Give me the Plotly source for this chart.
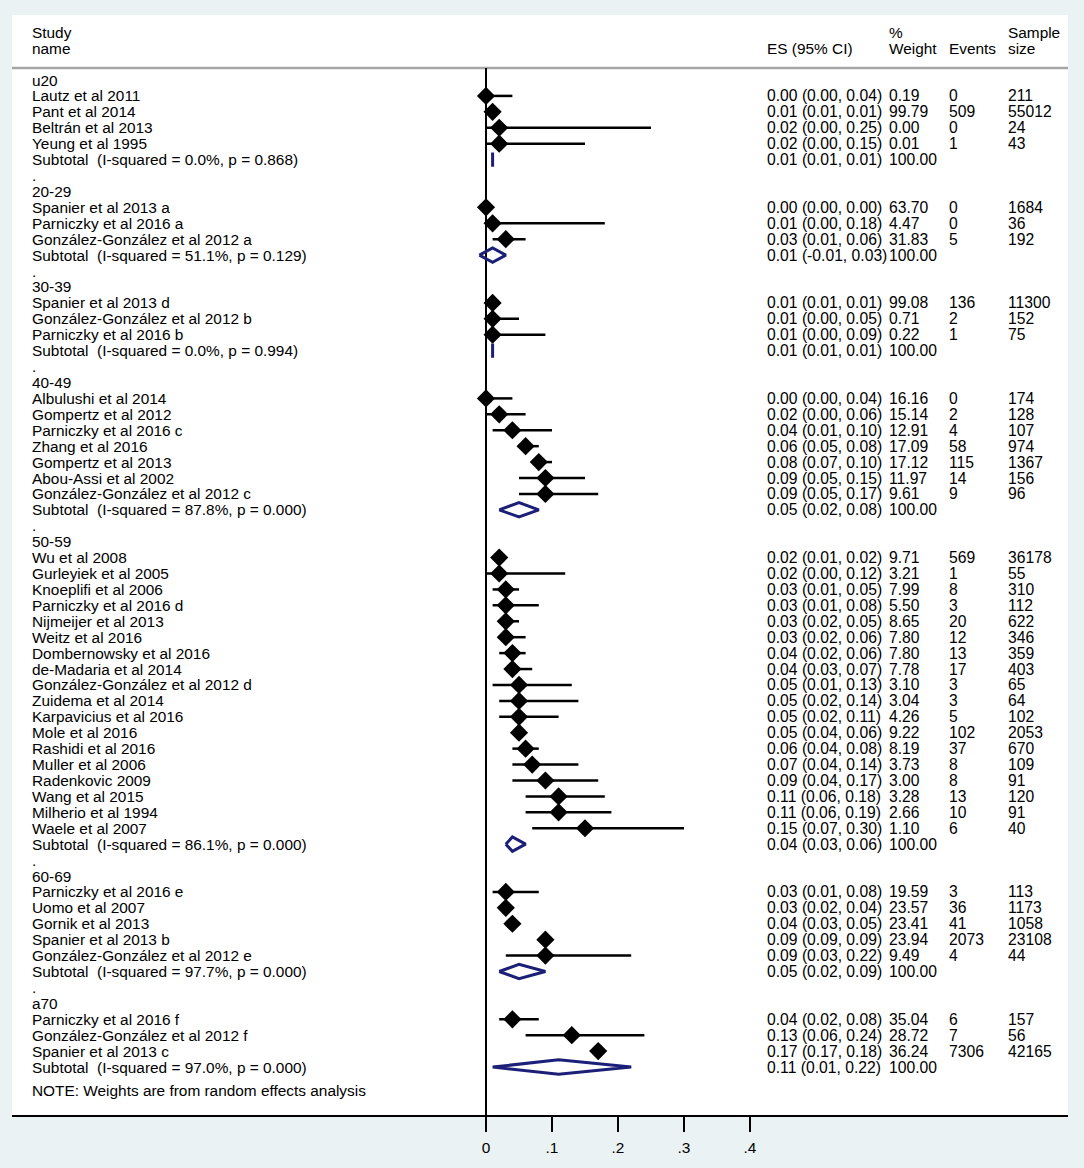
import plotly.graph_objects as go

# ---------------- data ----------------
groups = ["u20", "20-29", "30-39", "40-49", "50-59", "60-69", "a70"]

study_names = [
    "Lautz et al 2011", "Pant et al 2014", "Beltrán et al 2013", "Yeung et al 1995",
    "Spanier et al 2013 a", "Parniczky et al 2016 a", "González-González et al 2012 a",
    "Spanier et al 2013 d", "González-González et al 2012 b", "Parniczky et al 2016 b",
    "Albulushi et al 2014", "Gompertz et al 2012", "Parniczky et al 2016 c", "Zhang et al 2016",
    "Gompertz et al 2013", "Abou-Assi et al 2002", "González-González et al 2012 c",
    "Wu et al 2008", "Gurleyiek et al 2005", "Knoeplifi et al 2006", "Parniczky et al 2016 d",
    "Nijmeijer et al 2013", "Weitz et al 2016", "Dombernowsky et al 2016", "de-Madaria et al 2014",
    "González-González et al 2012 d", "Zuidema et al 2014", "Karpavicius et al 2016",
    "Mole et al 2016", "Rashidi et al 2016", "Muller et al 2006", "Radenkovic 2009",
    "Wang et al 2015", "Milherio et al 1994", "Waele et al 2007",
    "Parniczky et al 2016 e", "Uomo et al 2007", "Gornik et al 2013", "Spanier et al 2013 b",
    "González-González et al 2012 e",
    "Parniczky et al 2016 f", "González-González et al 2012 f", "Spanier et al 2013 c",
]
study_group = [0] * 4 + [1] * 3 + [2] * 3 + [3] * 7 + [4] * 18 + [5] * 5 + [6] * 3

study_es = [0.00, 0.01, 0.02, 0.02,
            0.00, 0.01, 0.03,
            0.01, 0.01, 0.01,
            0.00, 0.02, 0.04, 0.06, 0.08, 0.09, 0.09,
            0.02, 0.02, 0.03, 0.03, 0.03, 0.03, 0.04, 0.04, 0.05, 0.05, 0.05, 0.05,
            0.06, 0.07, 0.09, 0.11, 0.11, 0.15,
            0.03, 0.03, 0.04, 0.09, 0.09,
            0.04, 0.13, 0.17]
study_lo = [0.00, 0.01, 0.00, 0.00,
            0.00, 0.00, 0.01,
            0.01, 0.00, 0.00,
            0.00, 0.00, 0.01, 0.05, 0.07, 0.05, 0.05,
            0.01, 0.00, 0.01, 0.01, 0.02, 0.02, 0.02, 0.03, 0.01, 0.02, 0.02, 0.04,
            0.04, 0.04, 0.04, 0.06, 0.06, 0.07,
            0.01, 0.02, 0.03, 0.09, 0.03,
            0.02, 0.06, 0.17]
study_hi = [0.04, 0.01, 0.25, 0.15,
            0.00, 0.18, 0.06,
            0.01, 0.05, 0.09,
            0.04, 0.06, 0.10, 0.08, 0.10, 0.15, 0.17,
            0.02, 0.12, 0.05, 0.08, 0.05, 0.06, 0.06, 0.07, 0.13, 0.14, 0.11, 0.06,
            0.08, 0.14, 0.17, 0.18, 0.19, 0.30,
            0.08, 0.04, 0.05, 0.09, 0.22,
            0.08, 0.24, 0.18]
study_weight = [0.19, 99.79, 0.00, 0.01,
                63.70, 4.47, 31.83,
                99.08, 0.71, 0.22,
                16.16, 15.14, 12.91, 17.09, 17.12, 11.97, 9.61,
                9.71, 3.21, 7.99, 5.50, 8.65, 7.80, 7.80, 7.78, 3.10, 3.04, 4.26, 9.22,
                8.19, 3.73, 3.00, 3.28, 2.66, 1.10,
                19.59, 23.57, 23.41, 23.94, 9.49,
                35.04, 28.72, 36.24]
study_events = [0, 509, 0, 1,
                0, 0, 5,
                136, 2, 1,
                0, 2, 4, 58, 115, 14, 9,
                569, 1, 8, 3, 20, 12, 13, 17, 3, 3, 5, 102, 37, 8, 8, 13, 10, 6,
                3, 36, 41, 2073, 4,
                6, 7, 7306]
study_n = [211, 55012, 24, 43,
           1684, 36, 192,
           11300, 152, 75,
           174, 128, 107, 974, 1367, 156, 96,
           36178, 55, 310, 112, 622, 346, 359, 403, 65, 64, 102, 2053, 670, 109, 91, 120, 91, 40,
           113, 1173, 1058, 23108, 44,
           157, 56, 42165]

sub_i2 = [0.0, 51.1, 0.0, 87.8, 86.1, 97.7, 97.0]
sub_p = [0.868, 0.129, 0.994, 0.000, 0.000, 0.000, 0.000]
sub_es = [0.01, 0.01, 0.01, 0.05, 0.04, 0.05, 0.11]
sub_lo = [0.01, -0.01, 0.01, 0.02, 0.03, 0.02, 0.01]
sub_hi = [0.01, 0.03, 0.01, 0.08, 0.06, 0.09, 0.22]
sub_weight = [100.00] * 7

tick_vals = [0, 0.1, 0.2, 0.3, 0.4]
tick_text = ["0", ".1", ".2", ".3", ".4"]

note_text = "NOTE: Weights are from random effects analysis"

# ---------------- layout geometry (pixels) ----------------
W, H = 1084, 1168
L_PX, R_PX, TOP_PX, BOT_PX = 12, 1068, 15, 1115
X0_PX, UNIT_PX = 486, 660
ROW0_PX, ROW_PX = 80, 15.92

x_range = [(L_PX - X0_PX) / UNIT_PX, (R_PX - X0_PX) / UNIT_PX]
y_range = [(BOT_PX - ROW0_PX) / ROW_PX, (TOP_PX - ROW0_PX) / ROW_PX]


def px_to_paper_x(px):
    return (px - L_PX) / (R_PX - L_PX)


def px_to_paper_y(py):
    return (BOT_PX - py) / (BOT_PX - TOP_PX)


COL_NAME = px_to_paper_x(30)
COL_ES = px_to_paper_x(765)
COL_W = px_to_paper_x(887)
COL_EV = px_to_paper_x(947)
COL_N = px_to_paper_x(1006)

FONT = dict(family="Liberation Sans, Arial, sans-serif", size=15.4, color="#000000")
NUMFONT = dict(family="Liberation Sans, Arial, sans-serif", size=15.7, color="#000000")
NAVY = "#1b1f78"

# ---------------- rows ----------------
study_row = [None] * len(study_names)
sub_row = []
label_rows = []
r = 0
for g, gname in enumerate(groups):
    label_rows.append((r, gname))
    r += 1
    for i in range(len(study_names)):
        if study_group[i] == g:
            study_row[i] = r
            r += 1
    sub_row.append(r)
    r += 1
    if g < len(groups) - 1:
        label_rows.append((r, "."))
        r += 1
note_row = r + 0.5

# ---------------- traces ----------------
ci_x, ci_y = [], []
for i in range(len(study_names)):
    ci_x += [study_lo[i], study_hi[i], None]
    ci_y += [study_row[i], study_row[i], None]

dia_x, dia_y = [], []
h = 0.45
for g in range(len(groups)):
    rr = sub_row[g]
    dia_x += [sub_lo[g], sub_es[g], sub_hi[g], sub_es[g], sub_lo[g], None]
    dia_y += [rr, rr - h, rr, rr + h, rr, None]

fig = go.Figure()
fig.add_trace(go.Scatter(x=ci_x, y=ci_y, mode="lines",
                         line=dict(color="black", width=2.5), hoverinfo="skip"))
fig.add_trace(go.Scatter(x=study_es, y=study_row, mode="markers",
                         marker=dict(symbol="diamond", size=14, color="black",
                                     line=dict(width=0)),
                         hovertext=study_names))
fig.add_trace(go.Scatter(x=dia_x, y=dia_y, mode="lines",
                         line=dict(color=NAVY, width=3), hoverinfo="skip"))

# ---------------- text ----------------
ann = []


def add_text(xp, y, text, font=FONT):
    ann.append(dict(x=xp, y=y, xref="paper", yref="y", text=text, showarrow=False,
                    xanchor="left", yanchor="middle", font=font))


# headers
add_text(COL_NAME, -3, "Study")
add_text(COL_NAME, -2, "name")
add_text(COL_ES, -2, "ES (95% CI)")
add_text(COL_W, -3, "%")
add_text(COL_W, -2, "Weight")
add_text(COL_EV, -2, "Events")
add_text(COL_N, -3, "Sample")
add_text(COL_N, -2, "size")

for rr, t in label_rows:
    add_text(COL_NAME, rr, t)

for i in range(len(study_names)):
    rr = study_row[i]
    add_text(COL_NAME, rr, study_names[i])
    add_text(COL_ES, rr, f"{study_es[i]:.2f} ({study_lo[i]:.2f}, {study_hi[i]:.2f})", NUMFONT)
    add_text(COL_W, rr, f"{study_weight[i]:.2f}", NUMFONT)
    add_text(COL_EV, rr, str(study_events[i]), NUMFONT)
    add_text(COL_N, rr, str(study_n[i]), NUMFONT)

for g in range(len(groups)):
    rr = sub_row[g]
    add_text(COL_NAME, rr, f"Subtotal\u00a0 (I-squared = {sub_i2[g]:.1f}%, p = {sub_p[g]:.3f})")
    add_text(COL_ES, rr, f"{sub_es[g]:.2f} ({sub_lo[g]:.2f}, {sub_hi[g]:.2f})", NUMFONT)
    add_text(COL_W, rr, f"{sub_weight[g]:.2f}", NUMFONT)

add_text(COL_NAME, note_row, note_text)

# ---------------- shapes ----------------
header_y = px_to_paper_y(68)
shapes = [
    dict(type="line", xref="paper", yref="paper", x0=0, x1=1, y0=header_y, y1=header_y,
         line=dict(color="#a6a6a6", width=2.5), layer="below"),
    dict(type="line", xref="x", yref="paper", x0=0, x1=0, y0=0, y1=header_y,
         line=dict(color="black", width=2), layer="below"),
]

fig.update_layout(
    width=W, height=H,
    margin=dict(l=L_PX, r=W - R_PX, t=TOP_PX, b=H - BOT_PX, pad=0),
    paper_bgcolor="#eaf2f3", plot_bgcolor="#ffffff",
    showlegend=False,
    annotations=ann, shapes=shapes,
    font=FONT,
    xaxis=dict(range=x_range, tickvals=tick_vals, ticktext=tick_text,
               showgrid=False, zeroline=False, showline=True, linecolor="black",
               linewidth=2, ticks="outside", ticklen=15, tickwidth=2, tickcolor="black",
               ticklabelstandoff=3, tickfont=FONT, fixedrange=True),
    yaxis=dict(range=y_range, showgrid=False, zeroline=False, showline=False,
               showticklabels=False, ticks="", fixedrange=True),
)

fig.write_html("out.html", config={"displayModeBar": False},
               post_script="document.body.style.margin='0';document.body.style.overflow='hidden';")
